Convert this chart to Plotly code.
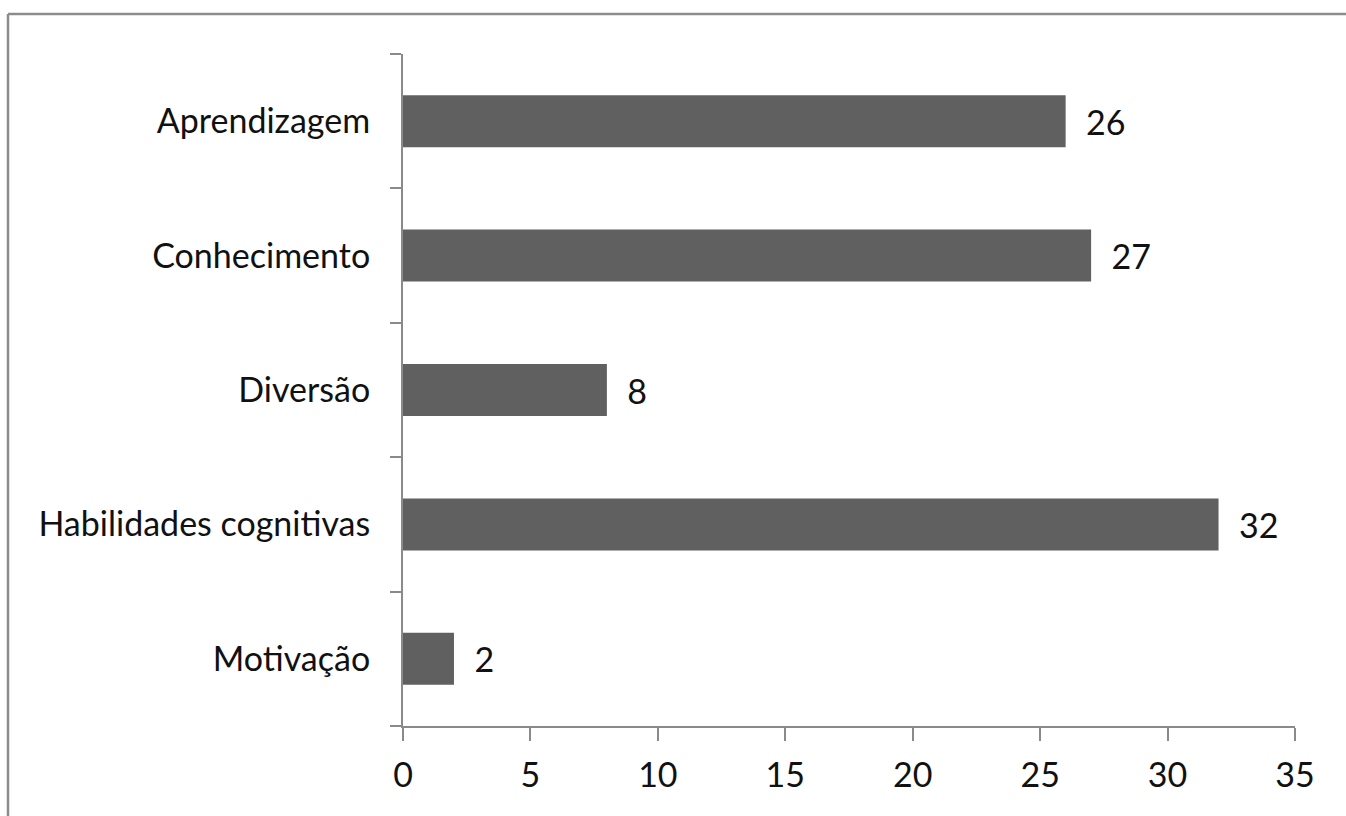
import plotly.graph_objects as go

categories = ["Aprendizagem", "Conhecimento", "Diversão", "Habilidades cognitivas", "Motivação"]
values = [26, 27, 8, 32, 2]
x_ticks = [0, 5, 10, 15, 20, 25, 30, 35]

W, H = 1346, 816
L, R, T, B = 403, 1295, 54, 726
FONT = dict(family="Lato", size=34, color="#111111")

fig = go.Figure(go.Bar(
    y=categories[::-1],
    x=values[::-1],
    orientation="h",
    marker=dict(color="#606060", line=dict(width=0)),
    text=["\u00a0\u00a0" + str(v) for v in values[::-1]],
    textposition="outside",
    textfont=FONT,
    cliponaxis=False,
))

def px_x(p):
    return (p - L) / (R - L)

def px_y(p):
    return (B - p) / (B - T)

fig.update_layout(
    width=W, height=H,
    margin=dict(l=L, r=W - R, t=T, b=H - B),
    paper_bgcolor="white", plot_bgcolor="white",
    bargap=0.613,
    showlegend=False,
    font=FONT,
    xaxis=dict(
        range=[0, 35], tickvals=x_ticks, showgrid=False, zeroline=False,
        showline=True, linecolor="#8a8a8a", linewidth=2,
        ticks="outside", ticklen=13, tickwidth=2, tickcolor="#8a8a8a",
        ticklabelstandoff=5,
        tickfont=FONT,
        fixedrange=True,
    ),
    yaxis=dict(
        showgrid=False, zeroline=False,
        showline=True, linecolor="#8a8a8a", linewidth=2,
        ticks="outside", ticklen=11, tickwidth=2, tickcolor="#8a8a8a",
        tickson="boundaries",
        ticklabelstandoff=24,
        tickfont=FONT,
        fixedrange=True,
    ),
    shapes=[
        dict(type="line", xref="paper", yref="paper",
             x0=px_x(8), x1=px_x(W + 5), y0=px_y(14), y1=px_y(14),
             line=dict(color="#8c8c8c", width=2.5)),
        dict(type="line", xref="paper", yref="paper",
             x0=px_x(8), x1=px_x(8), y0=px_y(14), y1=px_y(H + 5),
             line=dict(color="#8c8c8c", width=2.5)),
    ],
)

fig.write_html("out.html")
